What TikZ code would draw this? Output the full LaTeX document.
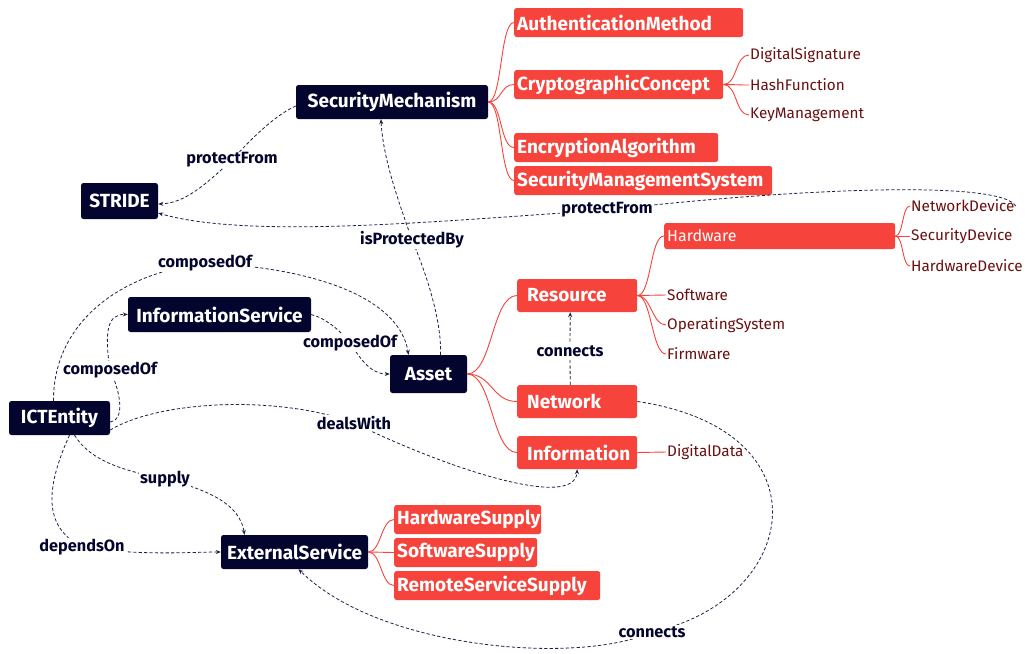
\documentclass[tikz,border=0pt]{standalone}
\usepackage{fontspec}
\setmainfont{Fira Sans}
\usetikzlibrary{arrows.meta}
\definecolor{navy}{HTML}{04052E}
\definecolor{tomato}{HTML}{F6443C}
\definecolor{leafc}{HTML}{6A1010}
\definecolor{edgec}{HTML}{1C2147}
\begin{document}
\begin{tikzpicture}[x=1pt,y=-1pt,
 darkbox/.style={fill=navy,text=white,rounded corners=2.5pt,font=\fontsize{19}{21}\selectfont\bfseries,inner sep=0pt,align=center},
 redbox/.style={fill=tomato,text=white,rounded corners=2.5pt,font=\fontsize{19}{21}\selectfont\bfseries,inner ysep=0pt,inner xsep=3pt,align=left,anchor=west,minimum height=29pt},
 leaf/.style={text=leafc,font=\fontsize{15.3}{17}\selectfont,inner sep=1pt,anchor=west},
 rel/.style={draw=edgec,line width=0.8pt,dash pattern=on 3.2pt off 2.2pt,-{Stealth[length=5pt,width=4pt]}},
 lbl/.style={fill=white,text=navy,font=\fontsize{16.3}{18}\selectfont\bfseries,inner sep=1pt},
 redl/.style={draw=tomato,line width=0.9pt}
]
\fill[white] (0,0) rectangle (1027,653);
\useasboundingbox (0,0) rectangle (1027,653);

% dark nodes
\node[darkbox,minimum width=192pt,minimum height=34pt] (SM) at (392,102) {SecurityMechanism};
\node[darkbox,minimum width=77pt,minimum height=36pt] (STRIDE) at (119.5,201) {STRIDE};
\node[darkbox,minimum width=183pt,minimum height=35pt] (IS) at (219.5,314.5) {InformationService};
\node[darkbox,minimum width=77pt,minimum height=38pt] (Asset) at (428.5,374) {Asset};
\node[darkbox,minimum width=101pt,minimum height=34pt] (ICT) at (59.5,418) {ICTEntity};
\node[darkbox,minimum width=147pt,minimum height=34pt] (ES) at (294.5,552) {ExternalService};

% red nodes
\node[redbox,text width=223pt] (AM) at (514,22.5) {AuthenticationMethod};
\node[redbox,text width=203pt] (CC) at (514,84.5) {CryptographicConcept};
\node[redbox,text width=198pt] (EA) at (514,147.5) {EncryptionAlgorithm};
\node[redbox,text width=252pt] (SMS) at (514,180.5) {SecurityManagementSystem};
\node[redbox,text width=225pt,minimum height=26pt,font=\fontsize{16}{18}\selectfont] (HW) at (664,236) {Hardware};
\node[redbox,text width=100pt,inner xsep=10pt,minimum height=33pt] (Res) at (517,295.5) {Resource};
\node[redbox,text width=100pt,inner xsep=10pt,minimum height=33pt] (Net) at (517,401.5) {Network};
\node[redbox,text width=100pt,inner xsep=10pt,minimum height=33pt] (Inf) at (517,452.5) {Information};
\node[redbox,text width=141pt] (HS) at (394,519.5) {HardwareSupply};
\node[redbox,text width=137pt] (SS) at (394,552.5) {SoftwareSupply};
\node[redbox,text width=200pt] (RSS) at (394,585.5) {RemoteServiceSupply};

% leaves
\node[leaf] (DS) at (749,55) {DigitalSignature};
\node[leaf] (HF) at (749,85) {HashFunction};
\node[leaf] (KM) at (749,115) {KeyManagement};
\node[leaf] (ND) at (910,206) {NetworkDevice};
\node[leaf] (SD) at (910,236) {SecurityDevice};
\node[leaf] (HD) at (910,266) {HardwareDevice};
\node[leaf] (SW) at (666,295) {Software};
\node[leaf] (OS) at (666,325) {OperatingSystem};
\node[leaf] (FW) at (666,354) {Firmware};
\node[leaf] (DD) at (666,452) {DigitalData};

% red tree links
\foreach \c in {AM,CC,EA,SMS} \draw[redl] (SM.east) .. controls +(14,0) and +(-14,0) .. (\c.west);
\foreach \c in {DS,HF,KM} \draw[redl] (CC.east) .. controls +(14,0) and +(-14,0) .. (\c.west);
\foreach \c in {Res,Net,Inf} \draw[redl] (Asset.east) .. controls +(25,0) and +(-25,0) .. (\c.west);
\foreach \c in {HW,SW,OS,FW} \draw[redl] (Res.east) .. controls +(14,0) and +(-14,0) .. (\c.west);
\foreach \c in {ND,SD,HD} \draw[redl] (HW.east) .. controls +(8,0) and +(-8,0) .. (\c.west);
\draw[redl] (Inf.east) -- (DD.west);
\foreach \c in {HS,SS,RSS} \draw[redl] (ES.east) .. controls +(13,0) and +(-13,0) .. (\c.west);

% label points
\coordinate (l1) at (232,160);
\coordinate (l2) at (607,210);
\coordinate (l3) at (412,240);
\coordinate (l4) at (205,263);
\coordinate (l5) at (110,370);
\coordinate (l6) at (350,343);
\coordinate (l7) at (354,423);
\coordinate (l8) at (165,479);
\coordinate (l9) at (82,547);
\coordinate (l10) at (652,632);
\coordinate (l11) at (570,351);

% relations
\draw[rel] ([yshift=-4pt]SM.west) .. controls (275,115) and (250,140) .. (l1) .. controls (205,185) and (185,203) .. ([yshift=-3pt]STRIDE.east);
\draw[rel] (ND.east) .. controls (1000,180) and (800,188) .. (l2) .. controls (450,220) and (250,240) .. ([yshift=-12pt]STRIDE.east);
\draw[rel] ([xshift=12pt]Asset.north) .. controls (442,320) and (425,270) .. (l3) .. controls (400,205) and (383,160) .. ([xshift=-11pt]SM.south);
\draw[rel] ([xshift=-6pt]ICT.north) .. controls (53,330) and (110,275) .. (l4) .. controls (320,268) and (400,300) .. ([xshift=-20pt]Asset.north);
\draw[rel] ([yshift=-4pt]ICT.east) .. controls (124,421) and (122,395) .. (l5) .. controls (104,330) and (108,314) .. (IS.west);
\draw[rel] (IS.east) .. controls (325,318) and (340,330) .. (l6) .. controls (360,358) and (370,374) .. (Asset.west);
\draw[rel] ([yshift=-12pt]ICT.east) .. controls (160,400) and (280,395) .. (l7) .. controls (450,470) and (575,510) .. (Inf.south);
\draw[rel] ([xshift=15pt]ICT.south) .. controls (90,460) and (120,470) .. (l8) .. controls (210,490) and (240,505) .. ([xshift=-50pt]ES.north);
\draw[rel] ([xshift=10pt]ICT.south) .. controls (40,500) and (50,530) .. (l9) .. controls (140,556) and (190,552) .. (ES.west);
\draw[rel] (Net.east) .. controls (830,430) and (800,600) .. (l10) .. controls (580,665) and (380,650) .. ([xshift=4pt]ES.south);
\draw[rel] ([xshift=-7pt]Net.north) -- (l11) -- ([xshift=-7pt]Res.south);

% labels
\node[lbl] (L1) at (l1) {protectFrom};
\node[lbl] (L2) at (l2) {protectFrom};
\node[lbl] (L3) at (l3) {isProtectedBy};
\node[lbl] (L4) at (l4) {composedOf};
\node[lbl] (L5) at (l5) {composedOf};
\node[lbl] (L6) at (l6) {composedOf};
\node[lbl] (L7) at (l7) {dealsWith};
\node[lbl] (L8) at (l8) {supply};
\node[lbl] (L9) at (l9) {dependsOn};
\node[lbl] (L10) at (l10) {connects};
\node[lbl] (L11) at (l11) {connects};
\end{tikzpicture}
\end{document}
